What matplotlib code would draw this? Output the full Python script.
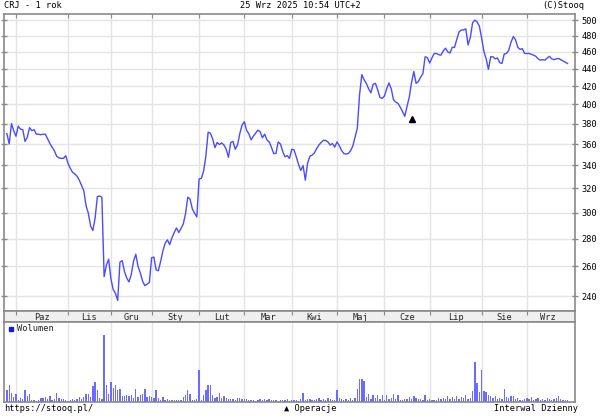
import matplotlib
matplotlib.use("Agg")
import matplotlib.pyplot as plt

# CRJ daily close, one value per session (25 Sep 2024 - 25 Sep 2025)
close = [
    370, 360, 380, 373, 367.5, 377.5, 374.5, 374, 362.5, 366.5,
    376, 373, 374, 369.5, 369.5, 369, 369.5, 369.5, 365, 360.5,
    357, 353.5, 348.5, 347, 346.5, 346.5, 349, 342, 337.5, 334,
    332.5, 330.5, 327, 322.5, 318, 305.5, 299.5, 289.5, 286, 295.5,
    313, 313.5, 312.5, 253, 261, 265, 251.5, 244.5, 242, 237.5,
    263, 264, 256.5, 252, 249.5, 254.5, 263.5, 268.5, 260, 255.5,
    250, 247, 248, 249, 266, 266.5, 257.5, 257, 263.5, 271,
    276.5, 279, 275.5, 280.5, 284.5, 288, 284.5, 287.5, 291, 299,
    312.5, 311, 303, 299.5, 296.5, 328, 328.5, 335, 348.5, 371.5,
    370.5, 365, 356.5, 361.5, 359.5, 361, 359, 355, 347.5, 361.5,
    362.5, 355, 359, 370, 378.5, 382, 373.5, 370, 364, 367.5,
    370.5, 373.5, 372, 366, 369.5, 364, 362, 357, 351, 351,
    362, 360, 353, 348, 349, 346.5, 355, 354.5, 348, 341,
    335.5, 340, 327, 342, 348.5, 349.5, 351.5, 355.5, 359, 361.5,
    363.5, 363.5, 362, 359, 360.5, 357, 362, 358.5, 354, 351,
    350.5, 351, 353.5, 358, 366.5, 375.5, 410.5, 433, 427, 423,
    417, 412.5, 422, 423, 416, 407.5, 406.5, 409, 417, 423.5,
    417, 405, 402.5, 401, 397, 392.5, 387.5, 398, 408, 424,
    436.5, 423, 425, 430, 434, 454, 453, 446.5, 452.5, 458,
    458, 456.5, 456, 461, 464.5, 460, 458.5, 465.5, 465.5, 475.5,
    485, 487.5, 487.5, 489, 468.5, 478, 497, 500.5, 498, 492.5,
    477, 460.5, 451.5, 439, 454, 454, 451.5, 452.5, 447, 446,
    457.5, 458, 462, 472, 479, 475, 465.5, 463, 464, 458,
    458, 458, 457, 456, 454.5, 451.5, 450, 450.5, 450, 452.5,
    454.5, 451.5, 450.5, 451.5, 452, 450.5, 449, 447.5, 446,
]

# volume, relative units
volume = [
    35, 52, 28, 15, 25, 7, 12, 10, 37, 17,
    23, 7, 5, 4, 5, 13, 12, 15, 10, 17,
    7, 10, 27, 12, 10, 8, 5, 4, 6, 10,
    5, 8, 15, 10, 15, 25, 25, 15, 47, 60,
    37, 13, 8, 200, 50, 25, 59, 43, 50, 37,
    40, 17, 18, 20, 17, 20, 13, 40, 15, 20,
    23, 40, 15, 18, 15, 13, 37, 13, 5, 15,
    7, 10, 7, 5, 5, 5, 7, 5, 15, 20,
    35, 23, 7, 5, 8, 97, 7, 20, 35, 50,
    50, 20, 13, 15, 27, 13, 17, 13, 10, 8,
    10, 7, 13, 13, 10, 10, 8, 5, 7, 5,
    3, 7, 10, 5, 10, 5, 8, 7, 7, 5,
    3, 5, 7, 5, 8, 3, 5, 7, 5, 3,
    10, 27, 7, 10, 10, 7, 5, 8, 12, 7,
    10, 7, 12, 10, 5, 7, 35, 13, 10, 7,
    10, 7, 13, 5, 12, 40, 70, 68, 63, 15,
    25, 8, 20, 13, 20, 10, 20, 7, 20, 8,
    13, 23, 10, 20, 7, 5, 10, 8, 15, 10,
    17, 13, 8, 10, 5, 22, 7, 10, 5, 5,
    7, 12, 10, 13, 8, 18, 10, 15, 10, 18,
    8, 15, 13, 20, 10, 13, 33, 119, 57, 30,
    95, 33, 30, 20, 17, 13, 17, 10, 13, 8,
    40, 15, 13, 17, 17, 10, 12, 7, 5, 10,
    13, 8, 15, 5, 10, 13, 7, 10, 5, 13,
    8, 5, 10, 13, 17, 10, 5, 7, 5,
]

# session index where each month starts, and the month names
month_starts = [4, 27, 46, 64, 85, 105, 126, 146, 167, 187, 210, 230, 249]
month_names = ["Paz", "Lis", "Gru", "Sty", "Lut", "Mar", "Kwi", "Maj",
               "Cze", "Lip", "Sie", "Wrz"]

price_ticks = [240, 260, 280, 300, 320, 340, 360, 380, 400, 420, 440, 460, 480, 500]

# corporate action marker
op_index = [179]
op_value = [385]

n = min(len(close), len(volume))
close = close[:n]
volume = volume[:n]
idx = list(range(n))

font = "DejaVu Sans Mono"
fs = 6.2
line_col = "#4b4bff"
bar_col = "#6b6bff"
grid_col = "#e4e4e4"
frame_col = "#8a8a8a"

fig = plt.figure(figsize=(6.04, 4.19), dpi=100)
W, H = 604.0, 419.0

def box(left, top, right, bottom):
    return [left / W, 1 - bottom / H, (right - left) / W, (bottom - top) / H]

xlo, xhi = -1.3, 251.3

# main price panel
ax = fig.add_axes(box(4, 14, 575, 311))
ax.set_yscale("log")
ax.plot(idx, close, color=line_col, lw=1.0)
ax.plot(op_index, op_value, marker="^", mfc="black", mec="black", ms=4.5,
        ls="none", zorder=5)
ax.set_xlim(xlo, xhi)
ax.set_ylim(230.9, 508.7)
ax.set_yticks(price_ticks)
ax.set_yticklabels([str(t) for t in price_ticks], fontfamily=font, fontsize=fs)
ax.minorticks_off()
ax.yaxis.tick_right()
ax.tick_params(axis="y", right=True, left=True, direction="inout", length=5,
               width=1, color=frame_col, pad=2)
ax.set_xticks(month_starts[:-1])
ax.set_xticklabels([])
ax.tick_params(axis="x", top=True, bottom=False, direction="in", length=3,
               color=frame_col)
ax.grid(True, color=grid_col, lw=1)
ax.set_axisbelow(True)
for s in ax.spines.values():
    s.set_color(frame_col)
    s.set_linewidth(1.2)

# month band
band = fig.add_axes(box(4, 311, 575, 322))
band.set_facecolor("#efefef")
band.set_xlim(xlo, xhi)
band.set_ylim(0, 1)
band.set_yticks([])
band.set_xticks(month_starts[:-1])
band.set_xticklabels([])
band.tick_params(axis="x", top=True, bottom=False, direction="in", length=3,
                 color=frame_col)
for k, name in enumerate(month_names):
    mid = (month_starts[k] + month_starts[k + 1]) / 2
    band.text(mid, 0.45, name, ha="center", va="center", fontfamily=font,
              fontsize=fs, color="#222222")
for s in band.spines.values():
    s.set_color(frame_col)
    s.set_linewidth(1.2)

# volume panel
vax = fig.add_axes(box(4, 322, 575, 402))
vax.bar(idx, volume, width=0.6, color=bar_col, linewidth=0)
vax.set_xlim(xlo, xhi)
vax.set_ylim(0, 240)
vax.set_yticks([])
vax.set_xticks(month_starts[:-1])
vax.set_xticklabels([])
vax.tick_params(axis="x", length=0)
vax.grid(True, axis="x", color=grid_col, lw=1)
vax.set_axisbelow(True)
for s in vax.spines.values():
    s.set_color(frame_col)
    s.set_linewidth(1.2)
vax.plot([0.012], [0.915], marker="s", color="#1a1acc", ms=3.5,
         transform=vax.transAxes, ls="none")
vax.text(0.022, 0.915, "Wolumen", transform=vax.transAxes, va="center",
         fontfamily=font, fontsize=fs, color="#222222")

# header and footer texts
fig.text(4 / W, 1 - 6 / H, "CRJ - 1 rok", fontfamily=font, fontsize=fs, va="center")
fig.text(300 / W, 1 - 6 / H, "25 Wrz 2025 10:54 UTC+2", fontfamily=font,
         fontsize=fs, va="center", ha="center")
fig.text(584 / W, 1 - 6 / H, "(C)Stooq", fontfamily=font, fontsize=fs,
         va="center", ha="right")
fig.text(4 / W, 1 - 408 / H, "https://stooq.pl/", fontfamily=font, fontsize=fs,
         va="center")
fig.text(310 / W, 1 - 408 / H, "\u25b2 Operacje", fontfamily=font, fontsize=fs,
         va="center", ha="center")
fig.text(578 / W, 1 - 408 / H, "Interwal Dzienny", fontfamily=font, fontsize=fs,
         va="center", ha="right")

fig.savefig("out.png", dpi=100)
